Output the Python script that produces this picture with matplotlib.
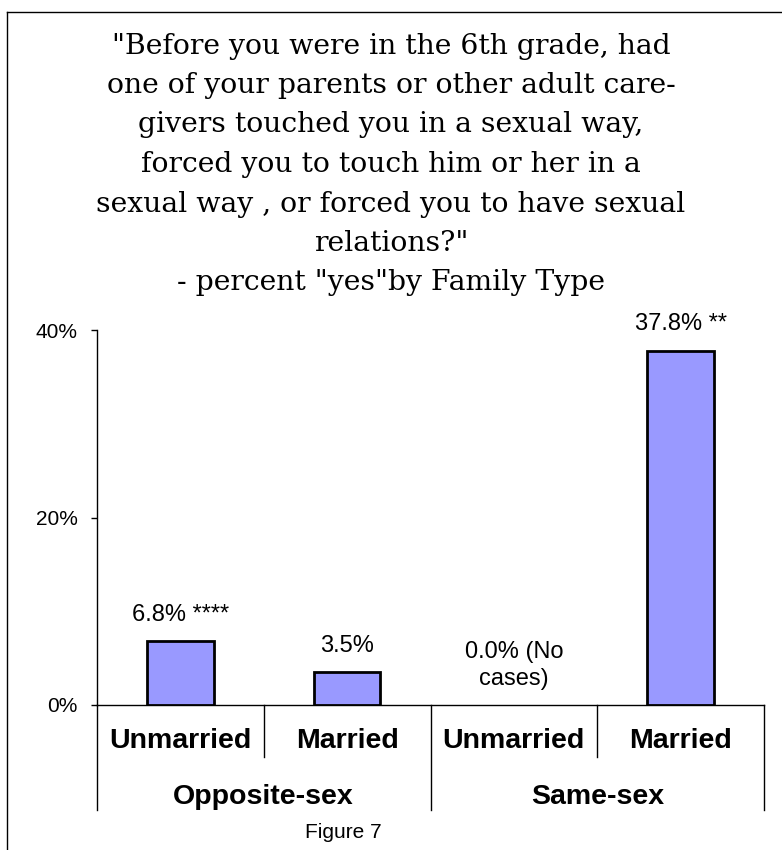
import matplotlib.pyplot as plt
from matplotlib.lines import Line2D

# ---- data ----
family_type = ["Opposite-sex", "Same-sex"]
marital = ["Unmarried", "Married", "Unmarried", "Married"]
pct_yes = [6.8, 3.5, 0.0, 37.8]
bar_labels = ["6.8% ****", "3.5%", "0.0% (No\ncases)", "37.8% **"]
y_ticks = [0, 20, 40]
title_lines = [
    '"Before you were in the 6th grade, had',
    "one of your parents or other adult care-",
    "givers touched you in a sexual way,",
    "forced you to touch him or her in a",
    "sexual way , or forced you to have sexual",
    'relations?"',
    '- percent "yes"by Family Type',
]

W, H = 782, 850
fig = plt.figure(figsize=(W / 100, H / 100), dpi=100)
fig.patch.set_facecolor("white")

# outer frame (only top and left edges visible in the crop)
fig.add_artist(Line2D([7 / W, 1], [1 - 12 / H, 1 - 12 / H], color="black", lw=1))
fig.add_artist(Line2D([7 / W, 7 / W], [0, 1 - 12 / H], color="black", lw=1))

serif = ["DejaVu Serif"]
sans = ["Liberation Sans", "DejaVu Sans"]

# title
y0, step = 46, 39.5
for i, line in enumerate(title_lines):
    fig.text(391 / W, 1 - (y0 + i * step) / H, line, ha="center", va="center",
             fontsize=20.3, family=serif)

ax = fig.add_axes([97 / W, 1 - 705 / H, (764 - 97) / W, (705 - 330) / H])
x = [i + 0.5 for i in range(len(pct_yes))]
edge_w = [2 if v > 0 else 0 for v in pct_yes]
ax.bar(x, pct_yes, width=0.4, color="#9999ff", edgecolor="black",
       linewidth=edge_w, zorder=3)
ax.set_xlim(0, len(pct_yes))
ax.set_ylim(0, 40)
ax.set_yticks(y_ticks)
ax.set_yticklabels([f"{v}%" for v in y_ticks], fontsize=15, family=sans)
ax.tick_params(axis="y", length=4, width=1, pad=10)
ax.set_xticks([])
for s in ["top", "right"]:
    ax.spines[s].set_visible(False)
ax.spines["left"].set_linewidth(1)
ax.spines["bottom"].set_linewidth(1)

for xi, v, lab in zip(x, pct_yes, bar_labels):
    ax.annotate(lab, (xi, v), xytext=(0, 11), textcoords="offset points",
                ha="center", va="bottom", fontsize=17, family=sans,
                linespacing=1.25)

# category axis (two levels)
tr = ax.get_xaxis_transform()
for xi, lab in zip(x, marital):
    ax.text(xi, -0.097, lab, transform=tr, ha="center", va="center",
            fontsize=20.5, fontweight="bold", family=sans)
for b in range(len(pct_yes) + 1):
    outer = b % 2 == 0
    ax.plot([b, b], [0, -0.28 if outer else -0.139], transform=tr,
            color="black", lw=1, clip_on=False)
for g, lab in enumerate(family_type):
    ax.text(2 * g + 1, -0.245, lab, transform=tr, ha="center", va="center",
            fontsize=20.5, fontweight="bold", family=sans)

fig.text(343 / W, 1 - 833 / H, "Figure 7", ha="center", va="center",
         fontsize=15, family=sans)

fig.savefig("out.png", dpi=100)
